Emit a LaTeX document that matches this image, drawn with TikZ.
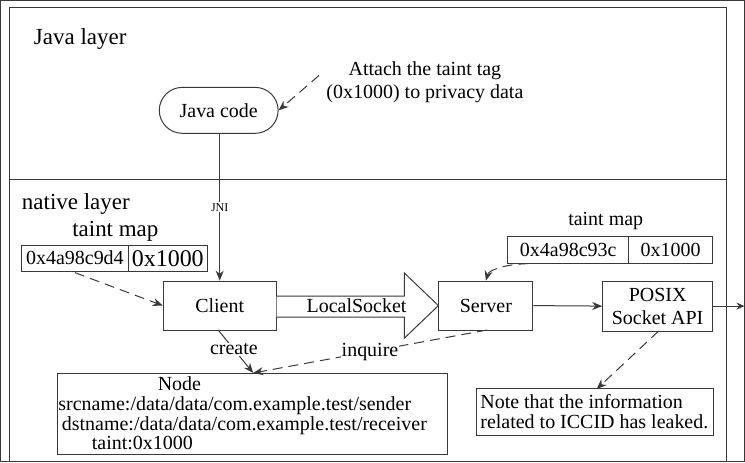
\documentclass[tikz,border=0pt]{standalone}
\usepackage{fontspec}
\setmainfont{Liberation Serif}
\usetikzlibrary{arrows.meta,calc}
\begin{document}
\begin{tikzpicture}[x=1pt,y=-1pt,
  line width=1pt,
  every path/.style={draw=black!78},
  tip/.style={-{Stealth[length=10pt,width=8pt]}},
  dsh/.style={dash pattern=on 10pt off 6pt},
  box/.style={draw=black!78,rectangle,inner sep=0pt,font=\fontsize{20}{23}\selectfont},
  txt/.style={inner sep=0pt,font=\fontsize{20}{23}\selectfont},
  big/.style={inner sep=0pt,font=\fontsize{23}{26}\selectfont},
  lbl/.style={inner sep=1pt,fill=white,font=\fontsize{20}{23}\selectfont}]
\useasboundingbox (0,0) rectangle (745,462);
% frame
\coordinate (fbl) at (9.5,462);
\coordinate (ftl) at (9.5,7.5);
\coordinate (ftr) at (726.5,7.5);
\coordinate (fbr) at (726.5,462);
\coordinate (dl) at (9.5,179);
\coordinate (dr) at (726.5,179);
\draw (fbl) -- (ftl) -- (ftr) -- (fbr);
\draw (dl) -- (dr);
% titles
\node[big,anchor=base west] (jl) at (33,44) {Java layer};
\node[big,anchor=base west] (nl) at (21,209) {native layer};
% java code
\node[box,rounded corners=23pt,minimum width=119pt,minimum height=46pt] (java) at (218.5,110) {Java code};
\node[txt,align=center] (attach) at (425,82) {Attach the taint tag\\(0x1000) to privacy data};
\coordinate (attst) at (319,75);
\draw[dsh,tip] (attst) -- (java.east);
% boxes
\node[box,minimum width=113pt,minimum height=49pt] (client) at (219.5,305.5) {Client};
\node[box,minimum width=94pt,minimum height=49pt] (server) at (486,305.5) {Server};
\node[box,minimum width=110pt,minimum height=50pt,align=center] (posix) at (658,306) {POSIX\\Socket API};
% JNI
\draw[tip] (java.south -| client.north) -- node[pos=0.5,fill=white,inner sep=1pt,font=\fontsize{12}{14}\selectfont] (jni) {JNI} (client.north);
% left taint map
\node[big,anchor=base] (ltm) at (115,236) {taint map};
\node[box,minimum width=107pt,minimum height=26pt] (lt1) at (74.5,258) {0x4a98c9d4};
\node[box,minimum width=79pt,minimum height=26pt,font=\fontsize{24}{26}\selectfont] (lt2) at (167.5,258) {0x1000};
\draw[dsh,tip] ($(lt1.south)+(0,1)$) -- (client.west);
% right taint map
\node[txt,anchor=base] (rtm) at (606,225) {taint map};
\node[box,minimum width=121pt,minimum height=27pt] (rt1) at (568.5,249.5) {0x4a98c93c};
\node[box,minimum width=84pt,minimum height=27pt] (rt2) at (671,249.5) {0x1000};
\coordinate (rtst) at ($(rt1.south)+(-40,0)$);
\draw[dsh,tip] (rtst) .. controls (505,264) and (489,270) .. (server.north);
% LocalSocket big arrow
\draw[fill=white] ($(client.east)+(0,-9.5)$) -- ($(server.west)+(-34,-9.5)$) -- ($(server.west)+(-34,-32.5)$)
  -- (server.west) -- ($(server.west)+(-34,32.5)$) -- ($(server.west)+(-34,11.5)$) -- ($(client.east)+(0,11.5)$);
\node[txt] (ls) at (356.5,306) {LocalSocket};
% server -> posix -> out
\draw[tip] (server.east) -- (posix.west);
\coordinate (out) at (745,306);
\draw[-{Stealth[length=8pt,width=7pt]}] (posix.east) -- (out);
% Node box
\node[box,minimum width=391pt,minimum height=82pt] (nodebox) at (252.5,414) {};
\node[txt,anchor=base west] (n1) at (157,391) {Node};
\node[txt,anchor=base west] (n2) at (57.5,411) {srcname:/data/data/com.example.test/sender};
\node[txt,anchor=base west] (n3) at (61,431) {dstname:/data/data/com.example.test/receiver};
\node[txt,anchor=base west] (n4) at (91,450) {taint:0x1000};
\coordinate (ntip) at (253,373);
\coordinate (cst) at (218,330);
\coordinate (sst) at (487,330);
\draw[tip] (cst) -- node[lbl,pos=0.45] (create) {create} (ntip);
\draw[dsh,tip] (sst) -- node[lbl,pos=0.5] (inq) {inquire} (ntip);
% Note box
\node[box,minimum width=237pt,minimum height=47pt] (note) at (595.5,412.5) {};
\node[txt,anchor=base west] (nt1) at (480,409) {Note that the information};
\node[txt,anchor=base west] (nt2) at (480,429) {related to ICCID has leaked.};
\coordinate (pst) at (659,331);
\draw[dsh,tip] (pst) -- (597,389);
\end{tikzpicture}
\end{document}
